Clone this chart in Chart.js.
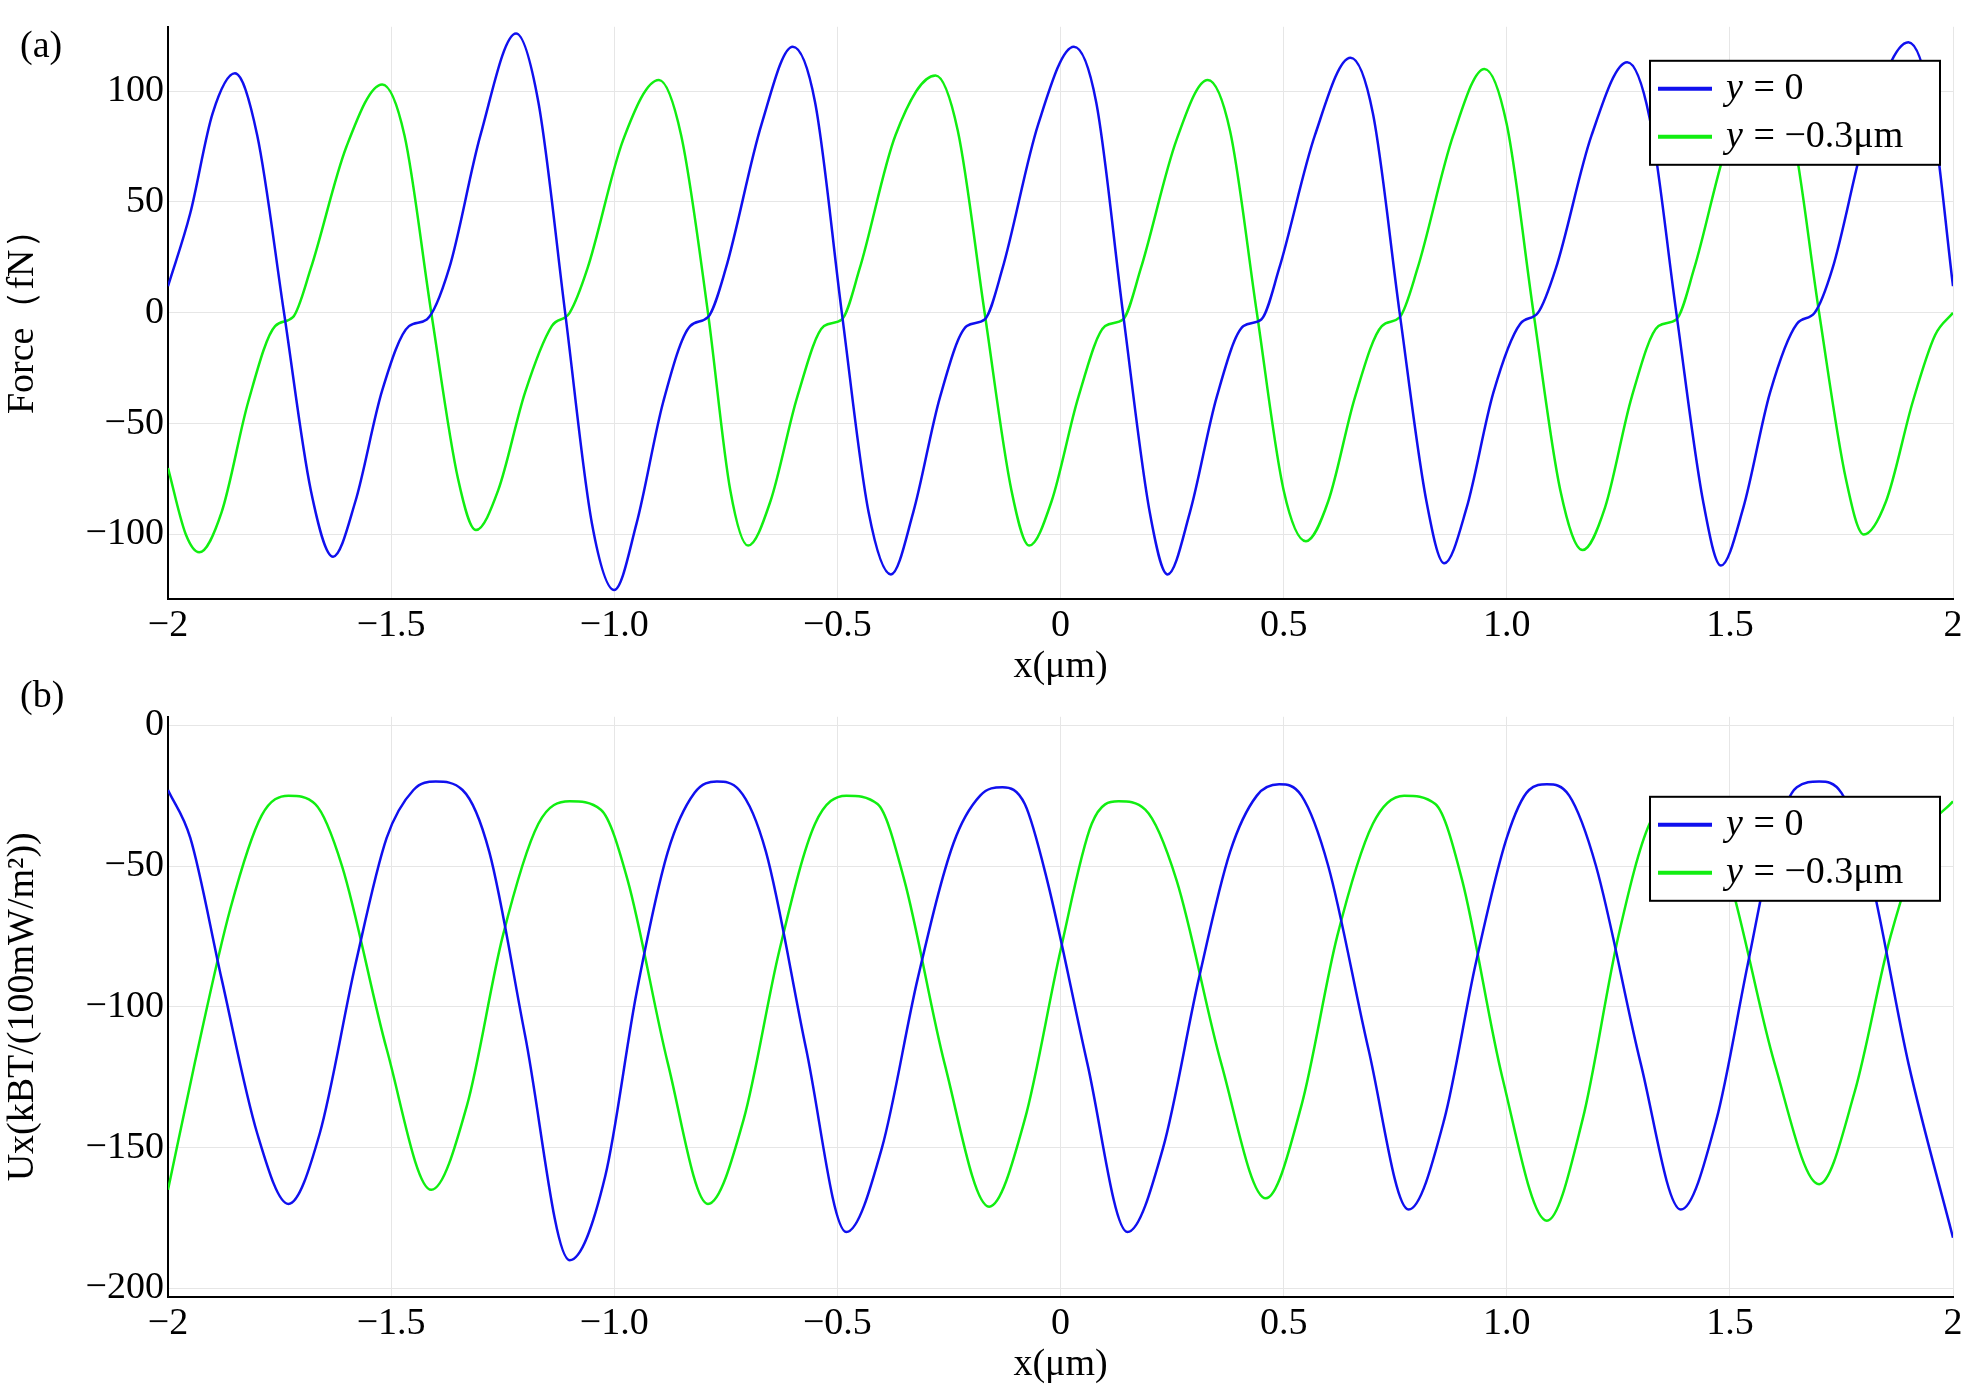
<!DOCTYPE html>
<html><head><meta charset="utf-8">
<script src="https://cdn.jsdelivr.net/npm/chart.js@4"></script>
<style>
body{margin:0;background:#fff;width:1967px;height:1388px;position:relative;font-family:"Liberation Serif",serif}
.w{position:absolute;left:0;width:1967px}
.lab{position:absolute;font-size:38px;font-family:"Liberation Serif",serif}
</style></head><body>
<div class="w" style="top:0;height:690px"><canvas id="ca"></canvas></div>
<div class="w" style="top:690px;height:698px"><canvas id="cb"></canvas></div>
<div class="lab" style="left:20px;top:22px">(a)</div>
<div class="lab" style="left:20px;top:672px">(b)</div>
<script>
const seriesLabels=["y = 0","y = −0.3μm"];
const xTicks=[-2,-1.5,-1,-0.5,0,0.5,1,1.5,2];
const yTicksA=[-100,-50,0,50,100];
const yTicksB=[-200,-150,-100,-50,0];
const blueA=[[-2.00,12],[-1.95,45],[-1.90,90],[-1.85,108],[-1.80,80],[-1.74,0],[-1.68,-80],[-1.63,-110],[-1.58,-85],[-1.52,-35],[-1.46,-6],[-1.42,-3],[-1.37,20],[-1.30,80],[-1.22,126],[-1.17,95],[-1.11,0],[-1.05,-95],[-1.00,-125],[-0.95,-95],[-0.89,-40],[-0.83,-6],[-0.79,-2],[-0.75,20],[-0.67,85],[-0.60,120],[-0.55,95],[-0.49,0],[-0.43,-90],[-0.38,-118],[-0.33,-90],[-0.27,-38],[-0.21,-6],[-0.17,-3],[-0.13,20],[-0.05,85],[0.03,120],[0.08,95],[0.14,0],[0.20,-90],[0.24,-118],[0.29,-90],[0.35,-38],[0.41,-6],[0.45,-3],[0.49,20],[0.57,80],[0.65,115],[0.70,90],[0.76,0],[0.82,-85],[0.86,-113],[0.91,-88],[0.97,-36],[1.03,-5],[1.07,0],[1.11,20],[1.19,80],[1.27,113],[1.32,88],[1.38,0],[1.44,-85],[1.48,-114],[1.53,-88],[1.59,-36],[1.65,-5],[1.69,0],[1.73,20],[1.81,85],[1.90,122],[1.95,95],[2.00,12]];
const greenA=[[-2.00,-70],[-1.96,-100],[-1.93,-108],[-1.88,-90],[-1.82,-40],[-1.76,-6],[-1.72,-2],[-1.68,20],[-1.60,75],[-1.52,103],[-1.47,80],[-1.41,0],[-1.35,-75],[-1.31,-98],[-1.26,-80],[-1.20,-36],[-1.14,-6],[-1.10,0],[-1.06,20],[-0.98,78],[-0.90,105],[-0.85,80],[-0.79,0],[-0.74,-80],[-0.70,-105],[-0.65,-85],[-0.59,-38],[-0.53,-6],[-0.49,-3],[-0.45,20],[-0.37,80],[-0.28,107],[-0.23,82],[-0.17,0],[-0.11,-80],[-0.07,-105],[-0.02,-85],[0.04,-38],[0.10,-6],[0.14,-3],[0.18,20],[0.26,78],[0.33,105],[0.38,82],[0.44,0],[0.50,-80],[0.55,-103],[0.60,-85],[0.66,-38],[0.72,-6],[0.76,-2],[0.80,20],[0.88,80],[0.95,110],[1.00,85],[1.06,0],[1.12,-80],[1.17,-107],[1.22,-88],[1.28,-38],[1.34,-6],[1.38,-3],[1.42,20],[1.50,80],[1.59,108],[1.64,82],[1.70,0],[1.76,-75],[1.80,-100],[1.85,-85],[1.91,-40],[1.96,-10],[2.00,0]];
const blueB=[[-2.00,-23],[-1.95,-40],[-1.88,-90],[-1.80,-145],[-1.73,-170],[-1.66,-145],[-1.58,-85],[-1.51,-40],[-1.45,-23],[-1.40,-20],[-1.34,-23],[-1.28,-45],[-1.20,-110],[-1.10,-190],[-1.02,-160],[-0.95,-95],[-0.88,-45],[-0.82,-24],[-0.77,-20],[-0.72,-23],[-0.66,-45],[-0.57,-115],[-0.48,-180],[-0.40,-150],[-0.32,-90],[-0.24,-42],[-0.18,-25],[-0.13,-22],[-0.08,-28],[-0.03,-55],[0.06,-120],[0.15,-180],[0.23,-150],[0.31,-90],[0.38,-45],[0.44,-25],[0.49,-21],[0.54,-25],[0.60,-50],[0.69,-115],[0.78,-172],[0.86,-140],[0.93,-85],[1.00,-40],[1.05,-23],[1.09,-21],[1.14,-25],[1.20,-50],[1.30,-120],[1.39,-172],[1.47,-140],[1.54,-85],[1.60,-40],[1.65,-22],[1.70,-20],[1.75,-24],[1.81,-50],[1.90,-120],[2.00,-182]];
const greenB=[[-2.00,-165],[-1.94,-120],[-1.86,-65],[-1.79,-32],[-1.73,-25],[-1.67,-28],[-1.61,-50],[-1.51,-115],[-1.41,-165],[-1.33,-135],[-1.25,-75],[-1.17,-35],[-1.10,-27],[-1.03,-30],[-0.97,-55],[-0.88,-120],[-0.79,-170],[-0.71,-140],[-0.63,-80],[-0.55,-35],[-0.48,-25],[-0.41,-28],[-0.35,-55],[-0.26,-120],[-0.16,-171],[-0.08,-140],[0.00,-80],[0.07,-35],[0.13,-27],[0.19,-30],[0.26,-55],[0.36,-120],[0.46,-168],[0.54,-135],[0.62,-75],[0.70,-35],[0.77,-25],[0.84,-28],[0.90,-55],[0.99,-125],[1.09,-176],[1.17,-140],[1.25,-75],[1.32,-35],[1.38,-27],[1.44,-30],[1.50,-55],[1.60,-120],[1.70,-163],[1.78,-130],[1.86,-75],[1.94,-38],[2.00,-27]];

const F="Liberation Serif";
const fmtX=v=>{const a=Math.abs(v);const s=(a===0||a===2)?String(a):a.toFixed(1);return (v<0?"−":"")+s;};
const fmtY=v=>(v<0?"−":"")+Math.abs(v);
const legendPlugin={id:'lgd',afterDraw(c,args,o){
 const x=c.ctx,ca=c.chartArea,w=290,h=104;const L=ca.right-13-w,T=ca.top+o.off;
 x.save();x.fillStyle='#fff';x.fillRect(L,T,w,h);x.strokeStyle='#000';x.lineWidth=2;x.strokeRect(L,T,w,h);
 c.data.datasets.forEach((d,i)=>{const yy=T+28+i*48;x.strokeStyle=d.borderColor;x.lineWidth=4;
  x.beginPath();x.moveTo(L+8,yy);x.lineTo(L+62,yy);x.stroke();
  x.fillStyle='#000';x.textBaseline='middle';x.font='italic 38px '+F;x.fillText('y',L+76,yy);
  x.font='38px '+F;x.fillText(d.label.slice(1),L+94,yy);});
 x.restore();}};
function mk(id,b,g,ymin,ymax,yt,ytitle,off){
 const toPts=a=>a.map(p=>({x:p[0],y:p[1]}));
 new Chart(document.getElementById(id),{type:'line',
 data:{datasets:[
  {label:seriesLabels[0],data:toPts(b),borderColor:'#1010ee',borderWidth:2.5,pointRadius:0,cubicInterpolationMode:'monotone'},
  {label:seriesLabels[1],data:toPts(g),borderColor:'#11ee11',borderWidth:2.5,pointRadius:0,cubicInterpolationMode:'monotone'}]},
 options:{responsive:true,maintainAspectRatio:false,animation:false,
  layout:{padding:{top:19,right:14,left:0,bottom:0}},
  plugins:{legend:{display:false},tooltip:{enabled:false},lgd:{off:off}},
  scales:{
   x:{type:'linear',min:-2,max:2,afterBuildTicks:s=>{s.ticks=xTicks.map(v=>({value:v}));},
     ticks:{font:{family:F,size:38},color:'#000',callback:fmtX,padding:4},
     grid:{color:'#e6e6e6',drawTicks:false},border:{color:'#000',width:2},
     title:{display:true,text:'x(μm)',font:{family:F,size:38},color:'#000',padding:{top:-8,bottom:0}}},
   y:{min:ymin,max:ymax,afterBuildTicks:s=>{s.ticks=yt.map(v=>({value:v}));},
     ticks:{font:{family:F,size:38},color:'#000',callback:fmtY,padding:4},
     afterFit:s=>{s.width=168;},
     grid:{color:'#e6e6e6',drawTicks:false},border:{color:'#000',width:2},
     title:{display:true,text:ytitle,font:{family:F,size:38},color:'#000',padding:0}}}},
 plugins:[legendPlugin]});
}
mk('ca',blueA,greenA,-129,129,yTicksA,'Force（fN）',34);
mk('cb',blueB,greenB,-203,3,yTicksB,'Ux(kBT/(100mW/m²))',80);
</script></body></html>
